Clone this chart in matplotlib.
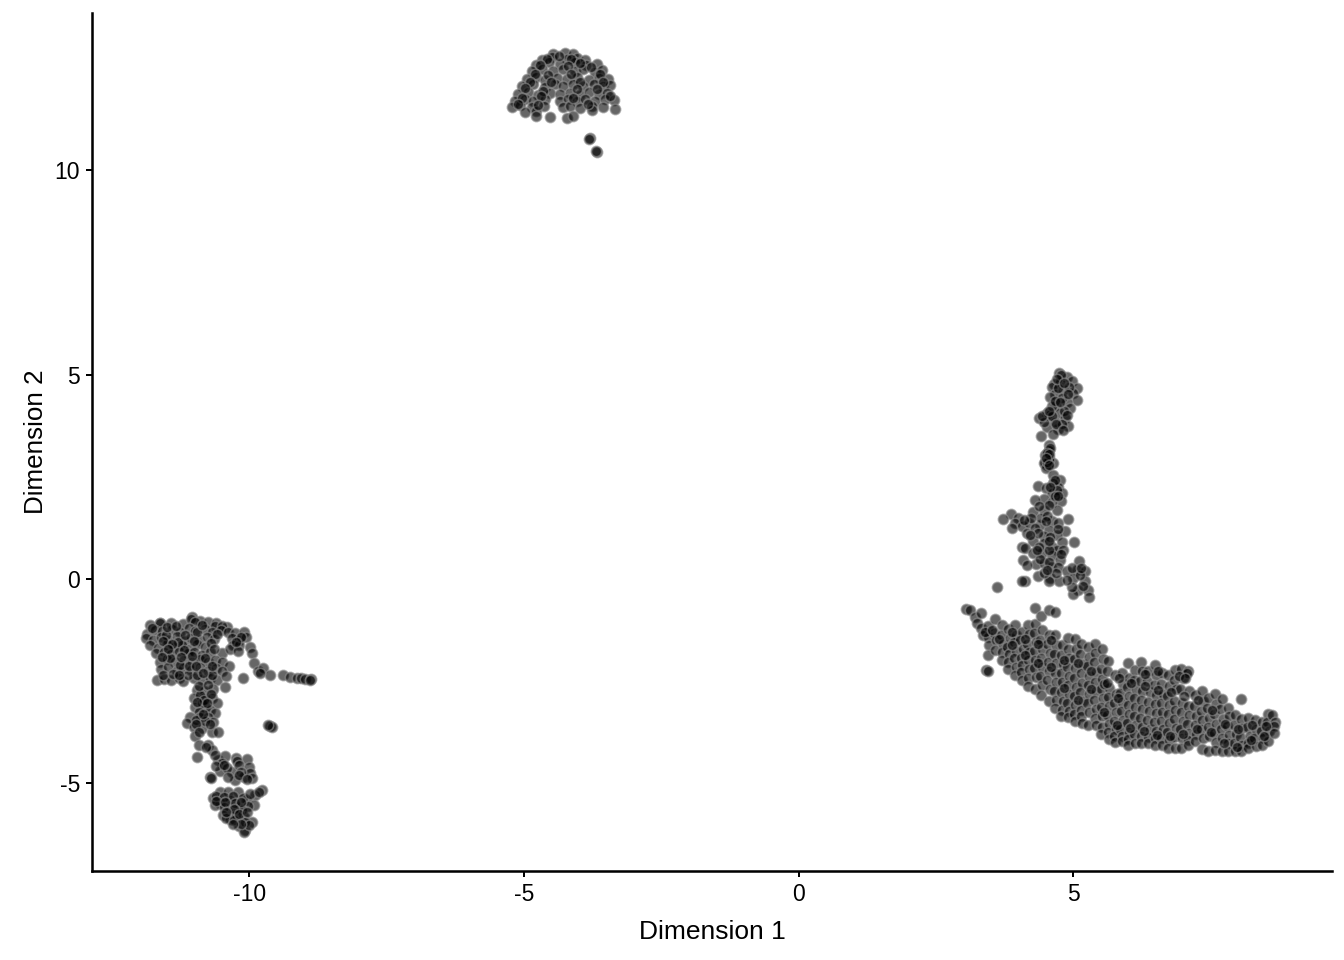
import matplotlib
matplotlib.use("Agg")
import matplotlib.pyplot as plt

plt.rcParams['font.family'] = ['Liberation Sans', 'DejaVu Sans']

left_upper = [
(-11.80,-1.12),(-11.62,-1.07),(-11.43,-1.07),(-11.20,-1.10),(-11.04,-0.92),(-10.90,-1.02),(-10.74,-1.04),(-10.60,-1.08),(-10.41,-1.17),
(-11.62,-1.08),(-11.06,-0.98),(-10.98,-1.05),(-10.62,-1.16),(-10.50,-1.14),
(-11.85,-1.35),(-11.72,-1.24),(-11.58,-1.28),(-11.40,-1.22),(-11.25,-1.30),(-11.10,-1.20),(-10.98,-1.27),(-10.80,-1.22),(-10.68,-1.30),(-10.52,-1.24),(-10.38,-1.30),(-10.26,-1.33),(-10.10,-1.30),
(-11.88,-1.45),(-11.75,-1.50),(-11.60,-1.42),(-11.47,-1.48),(-11.32,-1.40),(-11.18,-1.52),(-11.05,-1.44),(-10.92,-1.50),(-10.76,-1.42),(-10.64,-1.47),(-10.32,-1.45),(-10.18,-1.50),(-10.05,-1.42),
(-11.80,-1.62),(-11.65,-1.68),(-11.50,-1.60),(-11.36,-1.66),(-11.22,-1.62),(-11.08,-1.70),(-10.95,-1.60),(-10.80,-1.67),(-10.30,-1.62),(-10.19,-1.61),(-9.98,-1.66),
(-11.70,-1.82),(-11.55,-1.78),(-11.42,-1.84),(-11.28,-1.76),(-11.12,-1.82),(-11.00,-1.78),(-10.85,-1.85),(-10.72,-1.78),(-10.50,-1.80),(-10.35,-1.72),(-10.20,-1.76),(-9.95,-1.80),
(-11.62,-2.02),(-11.50,-1.96),(-11.35,-2.04),(-11.18,-1.97),(-11.04,-2.03),(-10.90,-1.96),(-10.74,-2.04),(-10.62,-1.98),(-10.50,-2.02),(-9.91,-2.05),
(-11.60,-2.20),(-11.48,-2.16),(-11.32,-2.24),(-11.20,-2.18),(-11.05,-2.22),(-10.90,-2.16),(-10.75,-2.24),(-10.60,-2.18),(-10.36,-2.12),(-10.50,-2.25),
(-11.68,-2.46),(-11.55,-2.44),(-11.42,-2.48),(-11.28,-2.42),(-11.20,-2.50),(-11.00,-2.43),(-10.85,-2.47),(-10.72,-2.41),(-10.58,-2.46),(-10.42,-2.38),(-10.12,-2.43),
(-11.56,-2.34),(-11.38,-2.32),(-11.12,-2.34),(-10.94,-2.34),(-10.68,-2.34),(-11.44,-1.92),(-11.26,-2.10),(-11.10,-2.12),(-10.80,-1.92),(-10.95,-1.30),(-11.30,-1.55),(-11.52,-1.38),
(-9.83,-2.24),(-9.74,-2.18),(-9.62,-2.35),(-9.80,-2.30),(-9.39,-2.35),(-9.25,-2.40),(-9.13,-2.43),(-9.05,-2.42),(-8.98,-2.45),(-8.88,-2.44),(-8.90,-2.46),
]
left_lower = [
(-10.95,-2.71),(-10.83,-2.73),(-10.65,-2.70),(-10.44,-2.65),(-11.01,-2.92),(-10.82,-2.90),(-10.68,-2.92),(-10.59,-3.04),(-10.98,-3.14),(-10.80,-3.12),(-10.71,-3.20),(-10.62,-3.28),
(-10.90,-2.84),(-10.85,-3.02),(-10.92,-3.24),(-10.82,-2.96),
(-11.07,-3.38),(-10.89,-3.37),(-10.74,-3.37),(-10.65,-3.49),(-11.13,-3.51),(-11.01,-3.61),(-10.86,-3.65),(-10.68,-3.73),(-10.56,-3.75),(-10.98,-3.85),(-10.92,-4.06),(-10.74,-4.06),(-10.95,-4.36),(-10.68,-4.18),(-10.56,-4.42),(-10.44,-4.34),(-10.24,-4.38),(-10.04,-4.41),
(-10.97,-3.45),(-10.80,-3.46),(-10.78,-4.12),(-10.62,-4.30),(-10.50,-4.50),(-10.22,-4.46),
(-10.71,-4.83),(-10.53,-4.69),(-10.32,-4.71),(-10.19,-4.55),(-10.01,-4.59),(-10.10,-4.83),(-9.98,-4.75),(-10.26,-4.91),(-9.95,-4.87),(-10.70,-4.86),(-10.40,-4.62),(-10.14,-4.72),
(-10.53,-5.20),(-10.65,-5.36),(-10.38,-5.20),(-10.21,-5.22),(-9.77,-5.17),(-9.89,-5.28),(-10.04,-5.40),(-10.35,-5.40),(-10.53,-5.48),(-10.62,-5.52),(-10.19,-5.57),(-10.35,-5.65),(-9.92,-5.52),
(-10.60,-5.30),(-10.46,-5.32),(-10.30,-5.30),(-10.12,-5.36),(-9.98,-5.26),(-9.82,-5.22),(-10.46,-5.58),(-10.26,-5.48),(-10.02,-5.55),
(-10.47,-5.77),(-10.35,-5.88),(-10.10,-5.81),(-9.95,-5.93),(-10.07,-6.14),(-10.19,-6.05),(-10.07,-5.93),(-10.13,-5.65),(-10.10,-6.18),(-10.24,-5.78),(-10.42,-5.84),(-10.00,-6.02),(-10.28,-5.90),
(-9.62,-3.59),(-9.59,-3.63),(-9.65,-3.57),
]
left_fill = [
(-11.76,-1.20),(-11.50,-1.18),(-11.34,-1.16),(-11.16,-1.36),(-10.86,-1.12),(-10.58,-1.34),(-10.14,-1.42),
(-11.56,-1.52),(-11.40,-1.58),(-11.00,-1.52),(-10.70,-1.56),(-10.24,-1.54),
(-11.48,-1.72),(-11.18,-1.74),(-11.04,-1.88),(-10.64,-1.72),
(-11.58,-1.90),(-11.24,-1.90),(-10.96,-2.12),(-10.68,-2.12),(-11.28,-2.34),(-10.84,-2.30),
(-10.92,-2.62),(-10.74,-2.58),(-10.70,-2.80),(-10.94,-3.00),(-10.76,-3.04),(-10.84,-3.30),(-10.96,-3.54),(-10.92,-3.74),(-10.72,-3.54),(-10.60,-5.44),(-10.44,-5.46),(-10.14,-5.46),(-10.28,-5.62),(-10.42,-5.70),(-10.18,-5.74),(-10.04,-5.70),(-10.14,-5.98),(-10.30,-6.00),
(-10.60,-4.58),(-10.46,-4.56),(-10.38,-4.84),(-10.18,-4.80),(-10.04,-4.90),
]
top_cap = [
(-4.46,12.84),(-4.25,12.87),(-4.10,12.83),(-4.67,12.70),(-4.49,12.76),(-4.22,12.72),(-4.04,12.75),(-3.89,12.69),
(-4.77,12.58),(-4.55,12.63),(-4.34,12.60),(-4.07,12.64),(-3.86,12.58),(-3.67,12.60),
(-4.86,12.42),(-4.67,12.47),(-4.46,12.41),(-4.28,12.46),(-4.07,12.42),(-3.92,12.47),(-3.70,12.40),(-3.58,12.44),
(-4.95,12.22),(-4.77,12.27),(-4.61,12.20),(-4.40,12.26),(-4.22,12.22),(-4.04,12.27),(-3.82,12.21),(-3.64,12.26),(-3.46,12.22),
(-5.04,12.05),(-4.83,12.10),(-4.61,12.04),(-4.43,12.10),(-4.28,12.06),(-4.10,12.10),(-3.92,12.05),(-3.73,12.10),(-3.55,12.05),(-3.43,12.08),
(-5.10,11.85),(-4.92,11.90),(-4.74,11.84),(-4.52,11.89),(-4.34,11.85),(-4.16,11.89),(-3.98,11.84),(-3.82,11.90),(-3.64,11.85),(-3.49,11.88),
(-5.16,11.70),(-4.98,11.74),(-4.83,11.68),(-4.61,11.73),(-4.34,11.68),(-4.19,11.73),(-4.04,11.69),(-3.89,11.73),(-3.70,11.68),(-3.52,11.73),(-3.35,11.71),
(-5.22,11.55),(-5.07,11.58),(-4.86,11.53),(-4.63,11.57),(-4.28,11.53),(-4.16,11.57),(-3.98,11.52),(-3.76,11.57),(-3.55,11.53),(-3.34,11.50),
(-4.98,11.43),(-4.77,11.45),(-4.52,11.30),(-4.77,11.33),(-4.22,11.28),(-4.10,11.33),(-3.76,11.48),
(-3.79,10.79),(-3.81,10.77),(-3.67,10.43),(-3.69,10.46),
]
top_fill = [
(-4.58,12.72),(-4.36,12.78),(-4.14,12.72),(-3.98,12.62),(-4.70,12.56),(-4.20,12.54),(-3.78,12.52),(-4.80,12.36),(-4.56,12.32),(-4.14,12.34),(-3.62,12.34),
(-4.88,12.16),(-4.50,12.16),(-3.98,12.16),(-3.56,12.16),(-4.98,12.00),(-4.66,11.94),(-4.04,11.98),(-3.66,11.98),
(-5.04,11.76),(-4.68,11.80),(-4.10,11.76),(-3.44,11.80),(-5.10,11.62),(-4.74,11.60),(-3.84,11.62),
]
right_stem = [
(4.75,5.03),(4.89,4.95),(4.65,4.78),(4.97,4.83),(4.76,4.82),(5.06,4.66),(4.61,4.70),(4.99,4.56),(4.67,4.52),(4.82,4.62),(4.58,4.44),(5.06,4.38),(4.69,4.25),(4.88,4.34),(4.95,4.19),(4.52,4.05),(4.75,4.05),(4.38,3.93),(4.55,4.01),(4.85,3.93),(4.91,3.73),(4.53,3.71),(4.73,3.68),(4.63,3.55),(4.41,3.50),(4.67,3.85),(4.46,3.85),
(4.78,4.98),(4.92,4.70),(4.72,4.66),(4.80,4.42),(4.62,4.22),(4.83,4.12),(4.62,3.98),(4.80,3.78),(4.44,3.98),
(4.55,3.28),(4.55,3.15),(4.58,3.20),(4.49,3.03),(4.55,2.99),(4.49,2.87),(4.52,2.79),(4.46,2.83),(4.64,2.83),(4.50,2.71),(4.63,2.54),(4.76,2.42),(4.36,2.27),(4.50,2.23),(4.73,2.24),(4.64,2.34),(4.79,2.10),(4.61,2.10),(4.46,1.95),(4.30,1.92),(4.78,1.91),(4.61,1.89),(4.47,1.69),(4.27,1.65),(4.70,1.69),
(4.52,3.08),(4.56,2.92),(4.52,2.85),(4.70,2.18),(4.55,1.80),(4.38,1.78),(4.66,2.02),
(3.86,1.60),(3.73,1.47),(4.00,1.48),(4.91,1.46),(3.94,1.36),(4.06,1.30),(4.20,1.36),(4.40,1.32),(4.61,1.42),(4.73,1.36),(3.88,1.24),(4.15,1.13),(4.55,1.20),(4.85,1.17),(4.30,1.24),(4.46,1.04),(4.70,1.08),(4.27,0.93),(4.79,0.91),(5.02,0.91),(4.06,0.79),(4.46,0.87),(4.12,0.77),(4.61,0.79),(4.70,0.71),(4.27,0.63),(4.44,0.63),(4.61,0.59),(4.08,0.47),(4.76,0.47),(5.11,0.44),(4.32,0.37),(4.15,0.34),(4.46,0.38),(4.60,0.29),(4.73,0.29),(4.89,0.20),(5.06,0.22),(5.21,0.20),(4.36,0.07),(4.58,0.02),(4.75,-0.06),(5.00,0.02),(5.21,-0.06),(4.12,-0.05),(4.06,-0.04),(4.55,-0.06),(5.09,-0.27),(5.00,-0.37),(5.27,-0.27),(5.29,-0.45),(3.62,-0.19),(4.97,-0.19),
(4.42,1.50),(4.52,1.55),(4.36,1.12),(4.58,1.02),(4.38,0.78),(4.55,0.70),(4.82,0.70),(4.40,0.50),(4.55,0.42),(4.68,0.14),(4.46,0.14),(5.12,0.10),(5.18,-0.18),(4.88,-0.02),
]
stem_fill = [
(4.70,4.90),(4.84,4.80),(4.66,4.36),(4.90,4.52),(4.76,4.32),(4.56,4.12),(4.88,4.02),(4.68,3.78),(4.82,3.64),
(4.56,3.06),(4.50,2.95),(4.56,2.78),(4.66,2.42),(4.58,2.24),(4.72,2.02),
(4.24,1.48),(4.10,1.44),(4.50,1.42),(4.22,1.08),(4.72,1.22),(4.56,0.94),(4.34,0.72),(4.78,0.60),(4.52,0.22),(4.98,0.28),(5.14,0.26),
]
right_band = [
(3.05,-0.73),(3.12,-0.75),(3.21,-0.93),(3.24,-1.08),(3.33,-0.82),(3.33,-1.21),(3.35,-1.37),
(3.45,-1.14),(3.45,-1.42),(3.47,-1.62),(3.44,-1.86),(3.41,-2.22),(3.45,-2.26),
(3.58,-0.98),(3.56,-1.32),(3.60,-1.50),(3.58,-1.73),(3.70,-1.13),(3.68,-1.36),(3.72,-1.58),(3.70,-1.78),(3.71,-1.98),
(3.82,-1.22),(3.84,-1.44),(3.80,-1.66),(3.83,-1.84),(3.82,-2.02),(3.81,-2.21),
(3.94,-1.12),(3.96,-1.36),(3.92,-1.55),(3.95,-1.76),(3.93,-1.94),(3.96,-2.15),(3.94,-2.34),
(4.06,-1.30),(4.04,-1.50),(4.08,-1.72),(4.05,-1.92),(4.07,-2.10),(4.05,-2.28),(4.06,-2.46),
(4.18,-1.12),(4.20,-1.35),(4.16,-1.58),(4.19,-1.78),(4.17,-1.99),(4.20,-2.20),(4.18,-2.42),(4.17,-2.62),
(4.30,-0.72),(4.30,-1.10),(4.28,-1.32),(4.32,-1.55),(4.29,-1.76),(4.31,-1.97),(4.28,-2.18),(4.32,-2.40),(4.30,-2.70),
(4.42,-0.90),(4.44,-1.24),(4.40,-1.48),(4.43,-1.70),(4.41,-1.93),(4.44,-2.15),(4.40,-2.36),(4.43,-2.58),(4.42,-2.83),
(4.55,-0.75),(4.55,-1.38),(4.53,-1.60),(4.57,-1.82),(4.54,-2.04),(4.56,-2.26),(4.53,-2.48),(4.57,-2.70),(4.55,-2.98),
(4.67,-0.80),(4.67,-1.38),(4.69,-1.62),(4.65,-1.84),(4.68,-2.06),(4.66,-2.30),(4.69,-2.52),(4.65,-2.74),(4.68,-2.95),(4.66,-3.15),
(4.79,-1.62),(4.77,-1.86),(4.81,-2.08),(4.78,-2.30),(4.80,-2.52),(4.77,-2.76),(4.81,-2.98),(4.79,-3.20),(4.78,-3.36),
(4.91,-1.45),(4.91,-1.70),(4.93,-1.94),(4.89,-2.14),(4.92,-2.36),(4.90,-2.58),(4.93,-2.80),(4.89,-3.02),(4.92,-3.22),(4.90,-3.38),
(5.03,-1.46),(5.05,-1.72),(5.01,-1.95),(5.04,-2.18),(5.02,-2.42),(5.05,-2.64),(5.01,-2.86),(5.04,-3.08),(5.02,-3.30),(5.03,-3.48),
(5.15,-1.60),(5.13,-1.84),(5.17,-2.08),(5.14,-2.30),(5.16,-2.54),(5.13,-2.76),(5.17,-2.98),(5.14,-3.20),(5.15,-3.36),(5.16,-3.52),
(5.27,-1.66),(5.29,-1.90),(5.25,-2.12),(5.28,-2.36),(5.26,-2.60),(5.29,-2.82),(5.25,-3.04),(5.28,-3.26),(5.27,-3.56),
(5.40,-1.60),(5.40,-1.80),(5.38,-2.04),(5.42,-2.28),(5.39,-2.52),(5.41,-2.74),(5.38,-2.96),(5.42,-3.18),(5.39,-3.40),(5.41,-3.57),
(5.52,-1.72),(5.54,-1.96),(5.50,-2.20),(5.53,-2.44),(5.51,-2.68),(5.54,-2.90),(5.50,-3.12),(5.53,-3.34),(5.52,-3.62),(5.50,-3.80),
(5.64,-2.00),(5.62,-2.24),(5.66,-2.66),(5.63,-2.88),(5.65,-3.10),(5.62,-3.32),(5.66,-3.54),(5.63,-3.74),(5.65,-3.92),
(5.76,-2.35),(5.78,-2.80),(5.74,-3.02),(5.77,-3.24),(5.75,-3.46),(5.78,-3.66),(5.74,-3.84),(5.76,-3.98),
(5.88,-2.30),(5.90,-2.56),(5.86,-2.78),(5.89,-3.00),(5.87,-3.22),(5.90,-3.44),(5.86,-3.66),(5.89,-3.84),(5.88,-3.97),
(6.00,-2.06),(6.02,-2.42),(5.98,-2.64),(6.01,-2.86),(5.99,-3.08),(6.02,-3.30),(5.98,-3.52),(6.01,-3.74),(5.99,-3.92),(6.00,-4.05),
(6.12,-2.22),(6.10,-2.46),(6.14,-2.70),(6.11,-2.92),(6.13,-3.14),(6.10,-3.36),(6.14,-3.58),(6.11,-3.80),(6.12,-4.01),
(6.24,-2.02),(6.26,-2.26),(6.22,-2.50),(6.25,-2.74),(6.23,-2.96),(6.26,-3.18),(6.22,-3.40),(6.25,-3.62),(6.23,-3.84),(6.24,-4.02),
(6.37,-2.24),(6.35,-2.50),(6.39,-2.76),(6.36,-3.00),(6.38,-3.22),(6.35,-3.44),(6.39,-3.66),(6.36,-3.86),(6.37,-4.01),
(6.49,-2.10),(6.51,-2.34),(6.47,-2.60),(6.50,-2.84),(6.48,-3.06),(6.51,-3.28),(6.47,-3.50),(6.50,-3.72),(6.48,-3.90),(6.49,-4.06),
(6.61,-2.30),(6.59,-2.56),(6.63,-2.80),(6.60,-3.02),(6.62,-3.24),(6.59,-3.46),(6.63,-3.68),(6.60,-3.88),(6.61,-4.06),
(6.73,-2.35),(6.75,-2.62),(6.71,-2.86),(6.74,-3.08),(6.72,-3.30),(6.75,-3.52),(6.71,-3.74),(6.74,-3.94),(6.73,-4.13),
(6.85,-2.22),(6.83,-2.46),(6.87,-2.70),(6.84,-2.98),(6.86,-3.20),(6.83,-3.42),(6.87,-3.64),(6.84,-3.86),(6.85,-4.13),
(6.97,-2.20),(6.99,-2.42),(6.95,-2.68),(6.98,-3.02),(6.96,-3.24),(6.99,-3.46),(6.95,-3.68),(6.98,-3.90),(6.97,-4.13),
(7.09,-2.24),(7.07,-2.30),(7.11,-2.74),(7.08,-3.10),(7.10,-3.32),(7.07,-3.54),(7.11,-3.76),(7.08,-3.94),(7.09,-4.05),
(7.22,-2.84),(7.20,-3.10),(7.24,-3.34),(7.21,-3.56),(7.23,-3.78),(7.22,-3.97),
(7.34,-2.75),(7.36,-2.98),(7.32,-3.22),(7.35,-3.44),(7.33,-3.66),(7.36,-3.88),(7.34,-4.16),
(7.46,-2.92),(7.44,-3.16),(7.48,-3.40),(7.45,-3.62),(7.47,-3.84),(7.46,-4.20),
(7.58,-2.82),(7.60,-3.05),(7.56,-3.30),(7.59,-3.54),(7.57,-3.76),(7.60,-3.98),(7.58,-4.17),
(7.70,-2.94),(7.68,-3.18),(7.72,-3.42),(7.69,-3.66),(7.71,-3.88),(7.70,-4.20),
(7.82,-3.16),(7.84,-3.36),(7.80,-3.60),(7.83,-3.82),(7.81,-4.02),(7.82,-4.21),
(7.94,-3.33),(7.92,-3.56),(7.96,-3.78),(7.93,-4.00),(7.94,-4.21),
(8.05,-2.93),(8.06,-3.42),(8.08,-3.64),(8.04,-3.86),(8.07,-4.06),(8.06,-4.21),
(8.19,-3.40),(8.17,-3.62),(8.21,-3.84),(8.18,-4.02),(8.19,-4.13),
(8.31,-3.44),(8.33,-3.68),(8.29,-3.88),(8.32,-4.08),
(8.43,-3.50),(8.41,-3.72),(8.45,-3.90),(8.43,-4.05),
(8.55,-3.30),(8.53,-3.50),(8.57,-3.72),(8.55,-3.96),
(8.62,-3.32),(8.67,-3.50),(8.65,-3.60),(8.66,-3.76),
]
band_fill = [
(3.40,-1.30),(3.52,-1.24),(3.64,-1.46),(3.88,-1.62),(4.12,-1.86),(4.36,-2.06),(4.60,-2.16),(4.84,-2.66),(5.08,-2.96),(5.32,-2.70),(5.56,-3.24),(5.80,-3.56),(6.04,-3.64),(6.28,-3.72),(6.52,-3.82),(6.76,-3.84),(7.00,-3.78),(7.26,-3.68),(7.50,-3.74),(7.74,-4.02),(7.98,-4.10),(8.24,-3.94),(8.48,-3.84),
(3.88,-1.30),(4.12,-1.46),(4.36,-1.60),(4.60,-1.50),(4.84,-1.98),(5.08,-2.06),(5.32,-2.24),(5.56,-2.56),(5.82,-2.92),(6.06,-2.54),(6.30,-2.62),(6.54,-2.72),(6.78,-2.76),(7.02,-2.86),(7.28,-2.96),(7.52,-3.20),(7.76,-3.54),(8.00,-3.68),(8.26,-3.56),(8.50,-3.60),
(5.62,-2.54),(5.84,-2.42),(6.30,-2.32),(6.54,-2.24),(6.92,-2.38),(7.04,-2.42),
]
x_ticks = [-10, -5, 0, 5]
y_ticks = [-5, 0, 5, 10]

groups = [left_upper, left_lower, left_fill, top_cap, top_fill, right_stem, stem_fill, right_band, band_fill]
xs = [p[0] for g in groups for p in g]
ys = [p[1] for g in groups for p in g]

fig = plt.figure(figsize=(14, 10), dpi=96)
ax = fig.add_axes([92/1344, 1-871/960, (1332-92)/1344, (871-13)/960])
ax.scatter(xs, ys, s=60, facecolor=(0, 0, 0, 0.6), edgecolor=(0.55, 0.55, 0.55, 0.62), linewidth=1.2, zorder=3, clip_on=False)
ax.set_xlim(-12.86, 9.71)
ax.set_ylim(-7.14, 13.84)
ax.set_xticks(x_ticks)
ax.set_yticks(y_ticks)
ax.set_xticklabels([str(v) for v in x_ticks])
ax.set_yticklabels([str(v) for v in y_ticks])
ax.tick_params(labelsize=17.2, length=4.5, width=1.5, pad=4.5, color='black')
for s in ('top', 'right'):
    ax.spines[s].set_visible(False)
for s in ('left', 'bottom'):
    ax.spines[s].set_linewidth(1.9)
ax.set_xlabel('Dimension 1', fontsize=19.8, labelpad=10.5)
ax.set_ylabel('Dimension 2', fontsize=19.5, labelpad=5)
fig.savefig('out.png', dpi=96)
